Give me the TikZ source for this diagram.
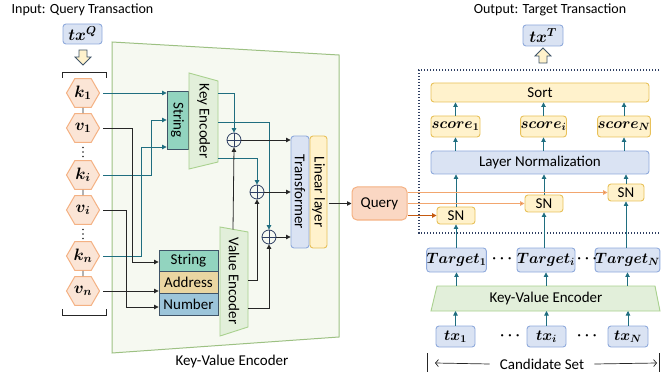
\RequirePackage{fix-cm}
\documentclass[tikz,border=0pt]{standalone}
\usepackage{fontspec}
\setmainfont{Carlito}
\usepackage{bm}
\usetikzlibrary{arrows.meta,shapes.geometric,calc}
\definecolor{fblue}{HTML}{DAE3F3}
\definecolor{bblue}{HTML}{8FAADC}
\definecolor{fyel}{HTML}{FFF2CC}
\definecolor{byel}{HTML}{E8C15A}
\definecolor{forg}{HTML}{FBE5D6}
\definecolor{borg}{HTML}{F4B183}
\definecolor{fq}{HTML}{FAD7C3}
\definecolor{fgreen}{HTML}{E2EFDA}
\definecolor{bgreen}{HTML}{A9D18E}
\definecolor{fbig}{HTML}{F6F9F1}
\definecolor{bbig}{HTML}{9DC183}
\definecolor{tealc}{HTML}{1F6E80}
\definecolor{darkc}{HTML}{262626}
\definecolor{navy}{HTML}{2F3F63}
\definecolor{tstr}{HTML}{92D4BF}
\definecolor{taddr}{HTML}{EAD6A2}
\definecolor{tnum}{HTML}{9CC5DA}
\definecolor{bslate}{HTML}{3F5468}
\definecolor{olc}{HTML}{F2A66E}
\definecolor{odc}{HTML}{C55A11}
\newcommand{\fs}{\fontsize{15}{17}\selectfont}
\newcommand{\ft}{\fontsize{14}{16}\selectfont}
\newcommand{\fh}{\fontsize{16.5}{18}\selectfont}
\tikzset{
  every node/.style={font=\fs, inner sep=0pt},
  bluebox/.style={draw=bblue, fill=fblue, rounded corners=3pt, line width=0.9pt},
  yelbox/.style={draw=byel, fill=fyel, rounded corners=3pt, line width=0.9pt},
  hexnode/.style={regular polygon, regular polygon sides=6, minimum size=33pt, draw=borg, fill=forg, line width=1pt, font=\fh},
  encshape/.style={draw=bgreen, fill=fgreen, line width=0.9pt},
  slatebox/.style={draw=bslate, line width=0.9pt},
  oplusnode/.style={circle, draw=navy, line width=0.8pt, minimum size=14pt,
     path picture={\draw[navy, line width=0.8pt] (path picture bounding box.north)--(path picture bounding box.south) (path picture bounding box.west)--(path picture bounding box.east);}},
  tarr/.style={draw=tealc, line width=0.8pt, -{Triangle[length=4.5pt,width=4.5pt]}},
  darr/.style={draw=darkc, line width=0.8pt, -{Triangle[length=4.5pt,width=4.5pt]}},
  oarr/.style={draw=olc, line width=1pt, -{Triangle[length=4.5pt,width=4.5pt,fill=odc]}},
  odarr/.style={draw=odc, line width=1pt, -{Triangle[length=4.5pt,width=4.5pt]}},
  blockarr/.style={draw=bslate, fill=fyel, line width=0.8pt},
}
\begin{document}
\begin{tikzpicture}[x=1pt,y=-1pt]
\useasboundingbox (0,0) rectangle (661,374);

% ---------- left: input ----------
\node[font=\ft] (inlabel) at (82.5,10) {Input: Query Transaction};
\node[bluebox, minimum width=39pt, minimum height=20pt, font=\fh] (txq) at (82.5,34) {$\bm{tx^{Q}}$};
\draw[blockarr] (79,50)--(87,50)--(87,57)--(91,57)--(83,65)--(75,57)--(79,57)--cycle;

\draw[darkc, line width=0.8pt] (62,78)--(62,72)--(106,72)--(106,78);
\draw[darkc, line width=0.8pt] (62,309)--(62,315)--(106,315)--(106,309);

% big encoder
\draw[draw=bbig, fill=fbig, line width=1pt] (112,42)--(339,55)--(339,337)--(112,353)--cycle;
\node (kvlabel) at (232,361) {Key-Value Encoder};

% hexagons
\node[hexnode] (k1) at (83,93) {$\bm{k_1}$};
\node[hexnode] (v1) at (83,128) {$\bm{v_1}$};
\node[hexnode] (ki) at (83,175) {$\bm{k_i}$};
\node[hexnode] (vi) at (83,210) {$\bm{v_i}$};
\node[hexnode] (kn) at (83,256) {$\bm{k_n}$};
\node[hexnode] (vn) at (83,291) {$\bm{v_n}$};
\draw[darkc, line width=0.9pt] (k1.south) -- (v1.north);
\draw[darkc, line width=0.9pt] (ki.south) -- (vi.north);
\draw[darkc, line width=0.9pt] (kn.south) -- (vn.north);
\foreach \yy in {147.5,152,156.5,229.5,234,238.5} \fill[darkc] (83,\yy) circle (0.9pt);

% key string box and key encoder
\node[slatebox, fill=tstr, minimum width=21pt, minimum height=58pt] (kstr) at (177.5,120) {};
\node[rotate=-90] at (kstr) {String};
\draw[encshape] (189,73)--(218,81)--(218,162)--(189,169)--cycle;
\node[rotate=-90] (keylabel) at (203.5,121) {Key Encoder};
\coordinate (ke1) at (218,93);
\coordinate (ke2) at (218,122);
\coordinate (ke3) at (218,158);

% value boxes and value encoder
\node[slatebox, fill=tstr, minimum width=59pt, minimum height=21pt] (vstr) at (188.5,260.5) {String};
\node[slatebox, fill=taddr, minimum width=59pt, minimum height=22pt] (vaddr) at (188.5,282) {Address};
\node[slatebox, fill=tnum, minimum width=59pt, minimum height=22pt] (vnum) at (188.5,304) {Number};
\draw[encshape] (220,227)--(248,232)--(248,327)--(220,336)--cycle;
\node[rotate=-90] (vallabel) at (234,281) {Value Encoder};
\coordinate (vetop) at (233,229.5);
\coordinate (ve1) at (248,280);
\coordinate (ve2) at (248,308);

% oplus
\node[oplusnode] (o1) at (234,140) {};
\node[oplusnode] (o2) at (257,192) {};
\node[oplusnode] (o3) at (269,237) {};

% transformer and linear layer
\node[draw=bblue, fill=fblue, rounded corners=3pt, line width=0.9pt, minimum width=18pt, minimum height=112pt] (trans) at (300,192) {};
\node[rotate=-90] at (trans) {Transformer};
\node[draw=byel, fill=fyel, rounded corners=3pt, line width=0.9pt, minimum width=17pt, minimum height=112pt] (lin) at (318.5,192) {};
\node[rotate=-90] at (lin) {Linear layer};

% query
\node[draw=borg, fill=fq, rounded corners=5pt, line width=1pt, minimum width=55pt, minimum height=33pt] (query) at (379.5,203.5) {Query};

% left connectors
\draw[tarr] ([xshift=3pt]k1.east) -- (kstr.west |- k1.east);
\draw[tarr] ([xshift=3pt]ki.east) -| ($(kstr.west)+(-15,0)$) -- (kstr.west);
\draw[tarr] ([xshift=3pt]kn.east) -| ($(kstr.west)+(-25,27)$) -- ($(kstr.west)+(0,27)$);
\draw[darr] ([xshift=3pt]v1.east) -| ($(vstr.west)+(-26,1.5)$) -- ($(vstr.west)+(0,1.5)$);
\draw[darr] ([xshift=3pt]vi.east) -| ($(vnum.west)+(-32,3)$) -- ($(vnum.west)+(0,3)$);
\draw[darr] ([xshift=3pt]vn.east) -- (vaddr.west |- vn.east);

% encoder outputs
\draw[tarr] (ke1) -| (o1.north);
\draw[tarr] (ke2) -| (o3.north);
\draw[tarr] (ke3) -| (o2.north);
\draw[darr] (vetop) -- (o1.south);
\draw[darr] (ve1) -| (o2.south);
\draw[darr] (ve2) -| (o3.south);
\draw[darr] (o1.east) -- (trans.west |- o1.east);
\draw[darr] (o2.east) -- (trans.west |- o2.east);
\draw[darr] (o3.east) -- (trans.west |- o3.east);
\draw[darr] ([xshift=2pt]lin.east |- query.west) -- (query.west);

% ---------- right ----------
\node[font=\ft] (outlabel) at (550,10) {Output: Target Transaction};
\node[bluebox, minimum width=40pt, minimum height=21pt, font=\fh] (txt) at (543,35.5) {$\bm{tx^{T}}$};
\draw[blockarr] (539,63)--(547,63)--(547,56)--(551,56)--(543,48)--(535,56)--(539,56)--cycle;

\draw[navy, line width=1.6pt, dash pattern=on 1.4pt off 1.6pt] (665,70) -- (419,70) -- (419,233) -- (665,233);

\node[yelbox, minimum width=218pt, minimum height=19pt] (sort) at (540,92.5) {Sort};
\node[yelbox, minimum width=49pt, minimum height=21pt] (sc1) at (455.5,126.5) {$\bm{score_1}$};
\node[yelbox, minimum width=45pt, minimum height=21pt] (sci) at (543.5,126.5) {$\bm{score_i}$};
\node[yelbox, minimum width=50pt, minimum height=21pt] (scn) at (624,126.5) {$\bm{score_N}$};
\node[bluebox, minimum width=218pt, minimum height=23pt] (ln) at (540,162.5) {Layer Normalization};
\node[yelbox, minimum width=38pt, minimum height=17pt] (sn1) at (456,215.5) {SN};
\node[yelbox, minimum width=38pt, minimum height=17pt] (sni) at (544,203.5) {SN};
\node[yelbox, minimum width=36pt, minimum height=17pt] (snn) at (626,192.5) {SN};

\foreach \s in {sc1,sci,scn} {
  \draw[tarr] (\s.north) -- (\s.north |- sort.south);
  \draw[tarr] (\s.south |- ln.north) -- (\s.south);
}
\foreach \s in {sn1,sni,snn} \draw[tarr] (\s.north) -- (\s.north |- ln.south);

\draw[oarr] (query.east |- snn.west) -- (snn.west);
\draw[oarr] (query.east |- sni.west) -- (sni.west);
\draw[odarr] (query.east |- sn1.west) -- (sn1.west);

\node[bluebox, minimum width=59pt, minimum height=24pt] (tg1) at (456.5,260) {$\bm{Target_1}$};
\node[bluebox, minimum width=58pt, minimum height=24pt] (tgi) at (546,260) {$\bm{Target_i}$};
\node[bluebox, minimum width=59pt, minimum height=24pt] (tgn) at (627.5,260) {$\bm{Target_N}$};
\node (d1) at (502,259) {$\bm{\cdots}$};
\node (d2) at (587,259) {$\bm{\cdots}$};

\draw[tarr] (sn1.south |- tg1.north) -- (sn1.south);
\draw[tarr] (sni.south |- tgi.north) -- (sni.south);
\draw[tarr] (snn.south |- tgn.north) -- (snn.south);

\draw[encshape] (437,286)--(655,286)--(660,311)--(431,311)--cycle;
\node (kv2) at (546,298.5) {Key-Value Encoder};
\coordinate (kvtop) at (546,286);
\coordinate (kvbot) at (546,311);

\node[bluebox, minimum width=39pt, minimum height=21pt] (tx1) at (455.5,336.5) {$\bm{tx_1}$};
\node[bluebox, minimum width=39pt, minimum height=21pt] (txi) at (546.5,336.5) {$\bm{tx_i}$};
\node[bluebox, minimum width=40pt, minimum height=21pt] (txn) at (628,336.5) {$\bm{tx_N}$};
\node (d3) at (510,336) {$\bm{\cdots}$};
\node (d4) at (587,336) {$\bm{\cdots}$};

\foreach \t in {tg1,tgi,tgn} \draw[tarr] (\t.south |- kvtop) -- (\t.south);
\foreach \t in {tx1,txi,txn} \draw[tarr] (\t.north) -- (\t.north |- kvbot);

\node (cand) at (542,364) {Candidate Set};
\coordinate (cl) at (427,363);
\coordinate (cr) at (659,363);
\draw[darkc, line width=0.8pt] ($(cl)+(0,-10)$) -- ($(cl)+(0,9)$);
\draw[darkc, line width=0.8pt] ($(cr)+(0,-10)$) -- ($(cr)+(0,9)$);
\draw[darkc, line width=0.7pt, -{Straight Barb[length=3pt,width=7pt]}] ($(cand.west)+(-10,0)$) -- ($(cl)+(8,0)$);
\draw[darkc, line width=0.7pt, -{Straight Barb[length=3pt,width=7pt]}] ($(cand.east)+(10,0)$) -- ($(cr)+(-2,0)$);
\end{tikzpicture}
\end{document}
